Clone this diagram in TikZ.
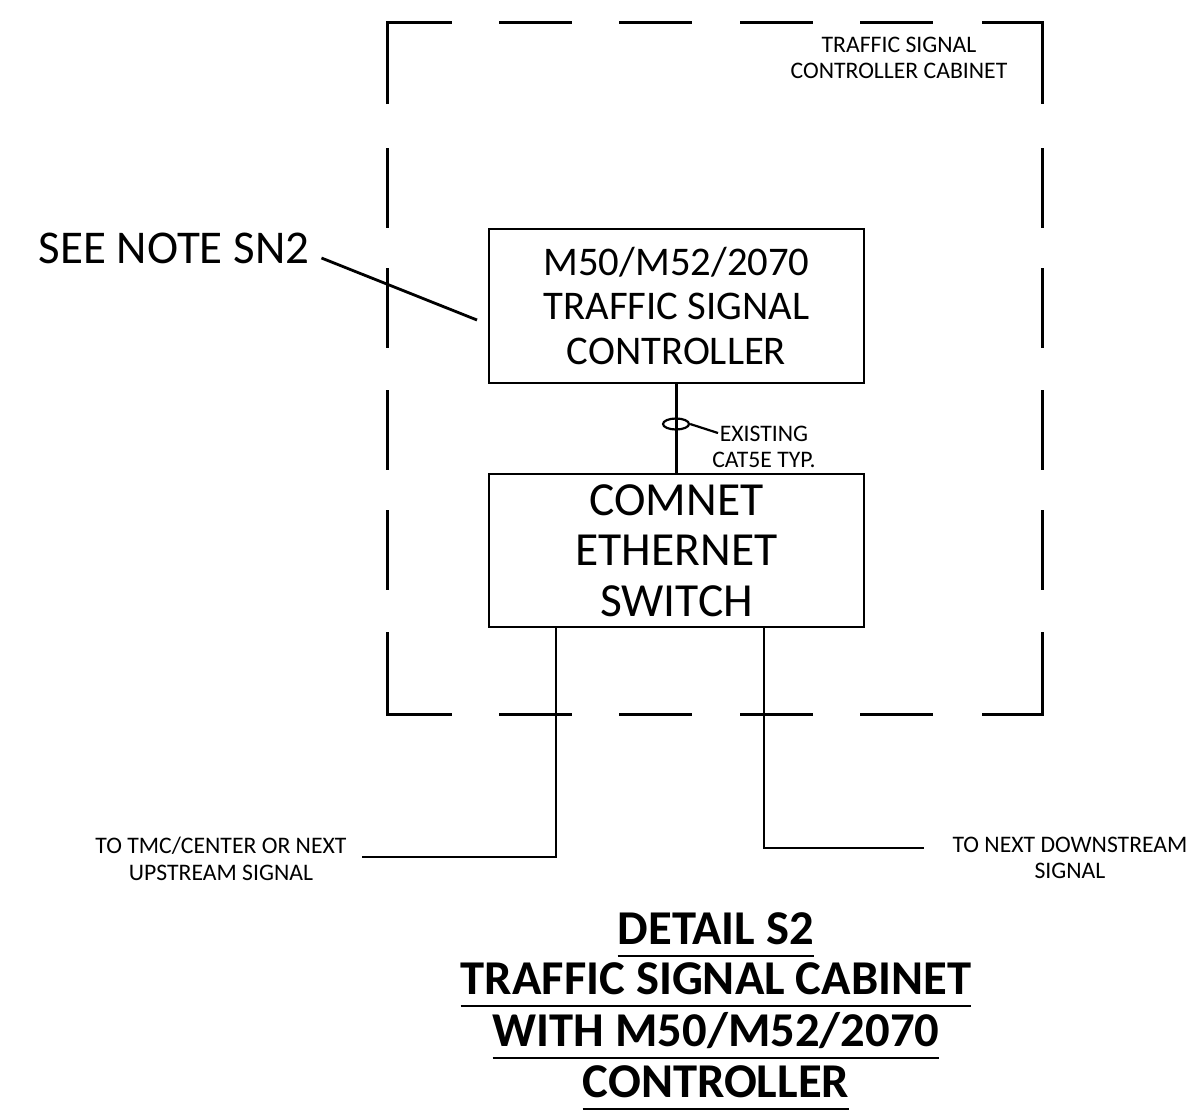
\documentclass[tikz,border=0pt]{standalone}
\usepackage{fontspec}
\setmainfont{Carlito}
\usetikzlibrary{positioning,calc,shapes.geometric}

\begin{document}
\begin{tikzpicture}[x=1pt,y=-1pt,
  box/.style={draw,line width=2.8pt,minimum width=375pt,minimum height=154pt,
              align=center,inner sep=0pt},
  cab/.style={line width=3pt},
  wire/.style={line width=2.8pt},
  small/.style={align=center,inner sep=0pt,font=\fontsize{23.7}{26.5}\selectfont},
  ttl/.style={font=\bfseries\fontsize{48.6}{52}\selectfont,inner sep=0pt,anchor=base},
  uline/.style={line width=2.2pt}]
  \useasboundingbox (0,0) rectangle (1192,1111);
  % cabinet outline (dashed, solid corners)
  \draw[cab] (387,104) |- (452,22);
  \draw[cab] (982,22) -| (1042,104);
  \draw[cab] (387,632) |- (452,714);
  \draw[cab] (982,714) -| (1042,632);
  \foreach \x in {499,619,740,860} {
    \draw[cab] (\x,22) -- ++(73,0);
    \draw[cab] (\x,714) -- ++(73,0);
  }
  \foreach \y in {148,268,390,510} {
    \draw[cab] (387,\y) -- ++(0,80);
    \draw[cab] (1042,\y) -- ++(0,80);
  }
  \node[small] (cablbl) at (899,58) {TRAFFIC SIGNAL\\CONTROLLER CABINET};
  % equipment
  \node[box,font=\fontsize{40.7}{44.5}\selectfont] (ctrl) at (676.5,306)
    {M50/M52/2070\\TRAFFIC SIGNAL\\CONTROLLER};
  \node[box,minimum height=153pt,font=\fontsize{47.5}{50.5}\selectfont] (sw) at (676.5,550.5)
    {COMNET\\ETHERNET\\SWITCH};
  \draw[wire] (ctrl) -- (sw);
  \node[ellipse,draw,line width=2.2pt,minimum width=26pt,minimum height=11pt,inner sep=0pt] (tie) at (676,424) {};
  \node[small] (catlbl) at (764,447) {EXISTING\\CAT5E TYP.};
  \coordinate (catend) at (718,433);
  \draw[line width=2.2pt] (tie.east) -- (catend);
  % note
  \node[inner sep=0pt,font=\fontsize{47}{50}\selectfont] (note) at (174,248) {SEE NOTE SN2};
  \coordinate (noteend) at (477,320);
  \draw[wire] ([xshift=12pt,yshift=-10pt]note.east) -- (noteend);
  % field links
  \coordinate (upend) at (362,857);
  \coordinate (dnend) at (924,848);
  \draw[wire] ([xshift=-120.5pt]sw.south) |- (upend);
  \draw[wire] ([xshift=87.5pt]sw.south) |- (dnend);
  \node[small] (uplbl) at (221,859) {TO TMC/CENTER OR NEXT\\UPSTREAM SIGNAL};
  \node[small] (dnlbl) at (1070,858) {TO NEXT DOWNSTREAM\\SIGNAL};
  % title
  \node[ttl] (t1) at (716,944) {DETAIL S2};
  \node[ttl] (t2) at (716,994) {TRAFFIC SIGNAL CABINET};
  \node[ttl] (t3) at (716,1046) {WITH M50/M52/2070};
  \node[ttl] (t4) at (716,1097) {CONTROLLER};
  \foreach \t in {t1,t2,t3,t4}
    \draw[uline] ([yshift=-12pt]\t.base west) -- ([yshift=-12pt]\t.base east);
\end{tikzpicture}
\end{document}
